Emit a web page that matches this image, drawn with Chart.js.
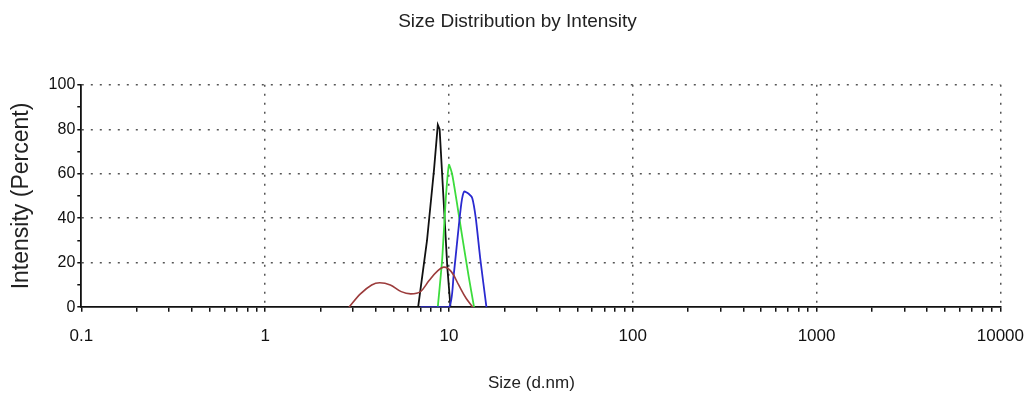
<!DOCTYPE html>
<html>
<head>
<meta charset="utf-8">
<script src="https://cdn.jsdelivr.net/npm/chart.js@4.4.1/dist/chart.umd.min.js"></script>
<style>
  html, body { margin: 0; padding: 0; background: #fff; }
</style>
</head>
<body>
<canvas id="sizeChart" width="1027" height="396"></canvas>
<script>
// Size distribution curves (size in d.nm, intensity in %)
const blackSizes = [6.8, 7.6, 8.3, 8.7, 8.9, 9.4, 9.8, 10.2];
const blackValues = [0, 30, 62, 82, 80, 45, 18, 0];

const greenSizes = [8.7, 9.2, 9.6, 10.0, 10.4, 11.0, 11.8, 12.8, 13.7];
const greenValues = [0, 22, 48, 64, 60, 48, 32, 14, 0];

const blueSizes = [7.0, 10.0, 10.6, 11.2, 11.7, 12.1, 12.8, 13.4, 14.0, 14.8, 16.0];
const blueValues = [0, 0, 14, 33, 47, 52, 51, 49, 40, 22, 0];

const redSizes = [2.86, 3.3, 3.8, 4.2, 4.8, 5.5, 6.2, 7.0, 7.8, 8.6, 9.4, 10.3, 11.3, 12.4, 13.5];
const redValues = [0, 6, 10, 11, 10, 7, 6, 7, 12, 16, 18, 16, 10, 4, 0];

// Axis ticks
const xDecades = [0.1, 1, 10, 100, 1000, 10000];
const xDecadeLabels = ['0.1', '1', '10', '100', '1000', '10000'];
const yLabelled = [0, 20, 40, 60, 80, 100];

// minor ticks 1..9 inside each decade
function buildLogTicks(decades) {
  const ticks = [];
  decades.forEach((d, i) => {
    if (i === decades.length - 1) {
      ticks.push(d);
      return;
    }
    for (let m = 1; m <= 9; m++) ticks.push(+(m * d).toPrecision(3));
  });
  return ticks;
}
const xTickValues = buildLogTicks(xDecades);

function toPoints(xs, ys) {
  return xs.map((x, i) => ({ x: x, y: ys[i] }));
}

function isDecade(v) {
  return xDecades.some(d => Math.abs(d - v) < d * 1e-6);
}

const gridDots = '#555';

new Chart(document.getElementById('sizeChart').getContext('2d'), {
  type: 'line',
  data: {
    datasets: [{
      label: 'Record 3',
      data: toPoints(redSizes, redValues),
      borderColor: '#9c3c3c',
      borderWidth: 1.6,
      tension: 0.35
    }, {
      label: 'Record 4',
      data: toPoints(blueSizes, blueValues),
      borderColor: '#2a2ad0',
      borderWidth: 1.8,
      tension: 0.2
    }, {
      label: 'Record 2',
      data: toPoints(greenSizes, greenValues),
      borderColor: '#3ddc3d',
      borderWidth: 1.8,
      tension: 0.2
    }, {
      label: 'Record 1',
      data: toPoints(blackSizes, blackValues),
      borderColor: '#111',
      borderWidth: 1.8,
      tension: 0
    }]
  },
  options: {
    responsive: false,
    animation: false,
    layout: { padding: { left: 8, right: 0, top: 0, bottom: 2 } },
    elements: { point: { radius: 0 } },
    plugins: {
      legend: { display: false },
      tooltip: { enabled: false },
      title: {
        display: true,
        text: 'Size Distribution by Intensity',
        color: '#222',
        font: { family: 'Liberation Sans', size: 19, weight: 'normal' },
        padding: { top: 10, bottom: 52 }
      }
    },
    scales: {
      x: {
        type: 'logarithmic',
        min: 0.1,
        max: 10000,
        afterBuildTicks: (scale) => {
          scale.ticks = xTickValues.map(v => ({ value: v }));
        },
        ticks: {
          autoSkip: false,
          maxRotation: 0,
          padding: 3,
          color: '#111',
          font: { family: 'Liberation Sans', size: 17 },
          callback: function(value) {
            const idx = xDecades.findIndex(d => Math.abs(d - value) < d * 1e-6);
            return idx >= 0 ? xDecadeLabels[idx] : '';
          }
        },
        grid: {
          drawOnChartArea: true,
          lineWidth: 1.5,
          color: (ctx) => (ctx.tick && isDecade(ctx.tick.value) && ctx.tick.value !== 0.1) ? gridDots : 'rgba(0,0,0,0)',
          // long tick slot gives room below the axis, only 4px of it is drawn
          tickLength: 16,
          tickBorderDash: [4, 60],
          tickColor: '#111',
          tickWidth: 1.5
        },
        border: { display: true, color: '#111', width: 1.8, dash: [2, 7] },
        title: {
          display: true,
          text: 'Size (d.nm)    ',
          color: '#222',
          font: { family: 'Liberation Sans', size: 17 },
          padding: { top: 24, bottom: 0 }
        }
      },
      y: {
        min: 0,
        max: 100,
        ticks: {
          stepSize: 10,
          padding: 2,
          color: '#111',
          font: { family: 'Liberation Sans', size: 16 },
          callback: (value) => yLabelled.includes(value) ? String(value) : ''
        },
        grid: {
          lineWidth: 1.5,
          color: (ctx) => (ctx.tick && ctx.tick.value > 0 && ctx.tick.value % 20 === 0) ? gridDots : 'rgba(0,0,0,0)',
          tickLength: 4,
          tickColor: '#111',
          tickWidth: 1.5
        },
        border: { display: true, color: '#111', width: 1.8, dash: [2, 7] },
        title: {
          display: true,
          text: 'Intensity (Percent)',
          color: '#222',
          font: { family: 'Liberation Sans', size: 23 },
          padding: { top: 0, bottom: 11 }
        }
      }
    }
  }
});
</script>
</body>
</html>
